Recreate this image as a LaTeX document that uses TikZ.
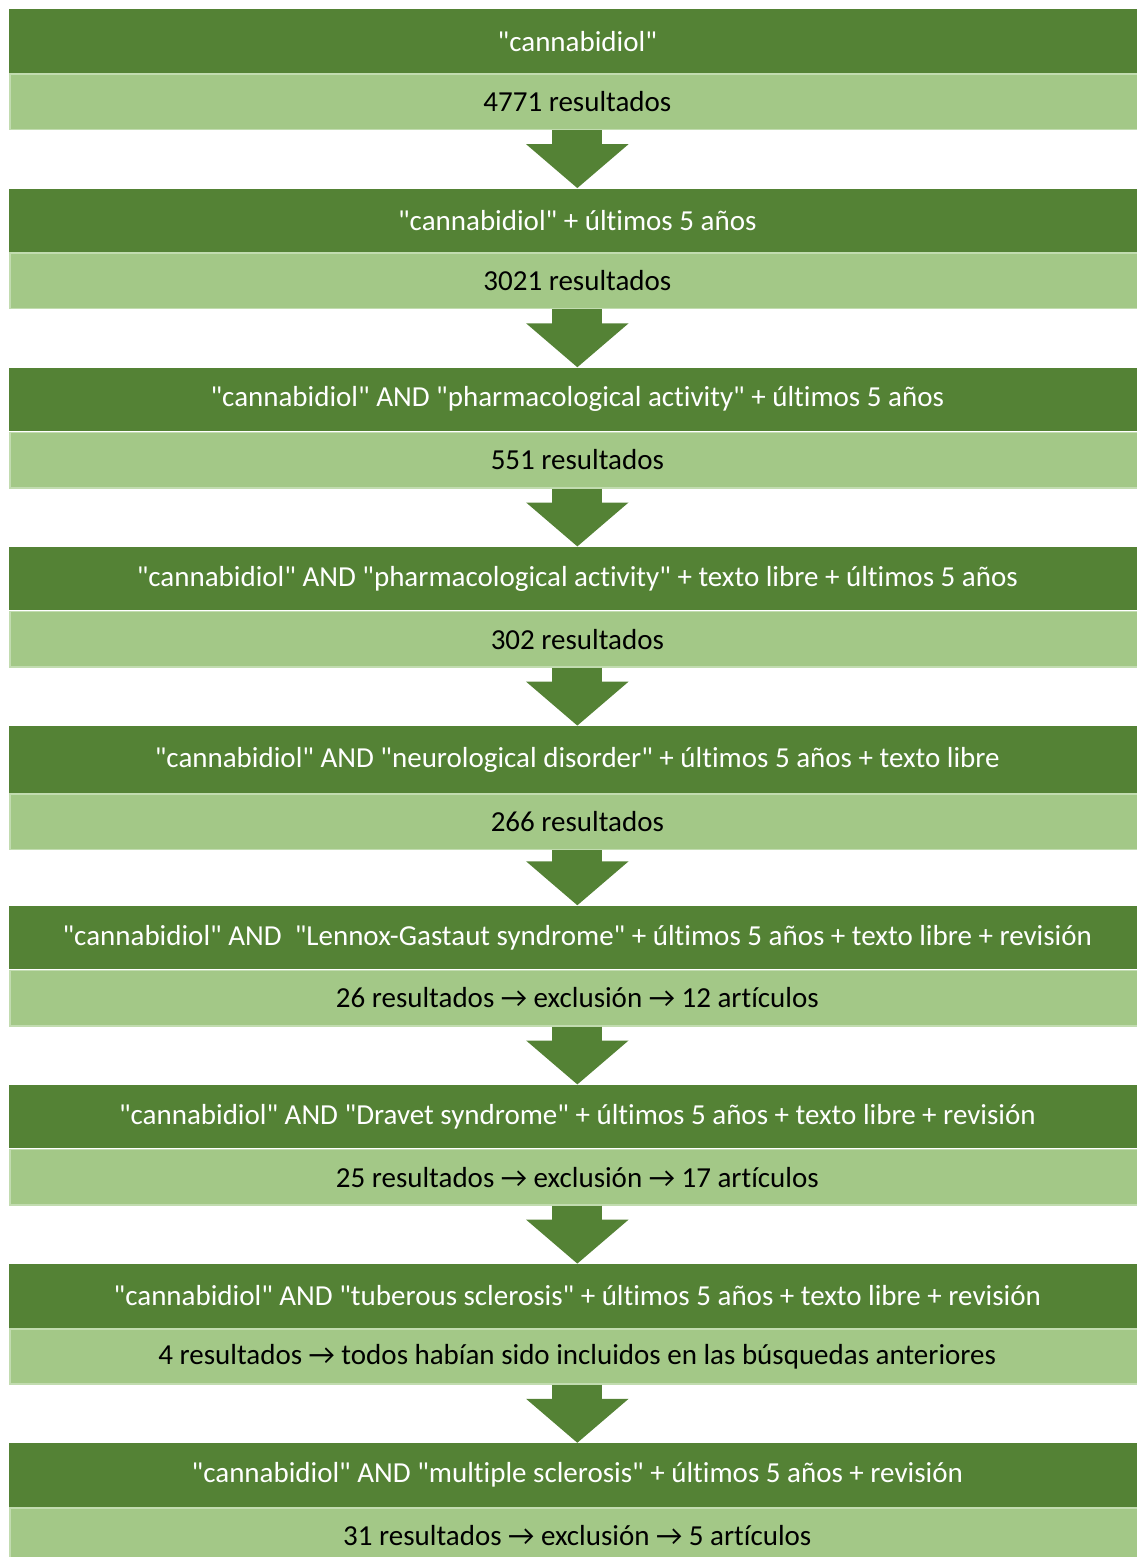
\documentclass[tikz,border=0pt]{standalone}
\usepackage{fontspec}
\setmainfont{Carlito}[Ligatures={TeXOff,NoCommon}]
\usetikzlibrary{arrows.meta,positioning}
\definecolor{leafgreen}{HTML}{548235}
\definecolor{sagegreen}{HTML}{A3C887}
\definecolor{sageedge}{HTML}{C2DCB0}

\tikzset{
  query/.style={rectangle, fill=leafgreen, text=white, inner sep=0pt,
    minimum width=681.6pt, minimum height=38.1pt,
    font=\fontsize{17.4}{20}\selectfont},
  result/.style={rectangle, fill=sagegreen, draw=sageedge, line width=1pt,
    text=black, inner sep=0pt,
    minimum width=680.6pt, minimum height=33.2pt,
    font=\fontsize{17.4}{20}\selectfont},
  flow/.style={leafgreen, line width=30pt,
    -{Triangle[length=26.4pt,width=60pt]}}
}

\begin{document}
\begin{tikzpicture}
    % page size of the reference
    \useasboundingbox (0,0) rectangle (682.2pt,-934.2pt);

    % Search steps
    \node[query, anchor=north west] (q1) at (5.4pt,-5.4pt) {"cannabidiol"};
    \node[result, below=0pt of q1] (r1) {4771 resultados};

    \node[query, below=34.8pt of r1] (q2) {"cannabidiol" + últimos 5 años};
    \node[result, below=0pt of q2] (r2) {3021 resultados};

    \node[query, below=34.8pt of r2] (q3) {"cannabidiol" AND "pharmacological activity" + últimos 5 años};
    \node[result, below=0pt of q3] (r3) {551 resultados};

    \node[query, below=34.8pt of r3] (q4) {"cannabidiol" AND "pharmacological activity" + texto libre + últimos 5 años};
    \node[result, below=0pt of q4] (r4) {302 resultados};

    \node[query, minimum height=40.2pt, below=34.8pt of r4] (q5) {"cannabidiol" AND "neurological disorder" + últimos 5 años + texto libre};
    \node[result, below=0pt of q5] (r5) {266 resultados};

    \node[query, below=33pt of r5] (q6) {"cannabidiol" AND \ "Lennox-Gastaut syndrome" + últimos 5 años + texto libre + revisión};
    \node[result, below=0pt of q6] (r6) {26 resultados → exclusión → 12 artículos};

    \node[query, below=34.8pt of r6] (q7) {"cannabidiol" AND "Dravet syndrome" + últimos 5 años + texto libre + revisión};
    \node[result, below=0pt of q7] (r7) {25 resultados → exclusión → 17 artículos};

    \node[query, below=34.8pt of r7] (q8) {"cannabidiol" AND "tuberous sclerosis" + últimos 5 años + texto libre + revisión};
    \node[result, below=0pt of q8] (r8) {4 resultados → todos habían sido incluidos en las búsquedas anteriores};

    \node[query, below=34.8pt of r8] (q9) {"cannabidiol" AND "multiple sclerosis" + últimos 5 años + revisión};
    \node[result, below=0pt of q9] (r9) {31 resultados → exclusión → 5 artículos};

    % Arrows
    \draw[flow] (r1) -- (q2);
    \draw[flow] (r2) -- (q3);
    \draw[flow] (r3) -- (q4);
    \draw[flow] (r4) -- (q5);
    \draw[flow] (r5) -- (q6);
    \draw[flow] (r6) -- (q7);
    \draw[flow] (r7) -- (q8);
    \draw[flow] (r8) -- (q9);

\end{tikzpicture}
\end{document}
